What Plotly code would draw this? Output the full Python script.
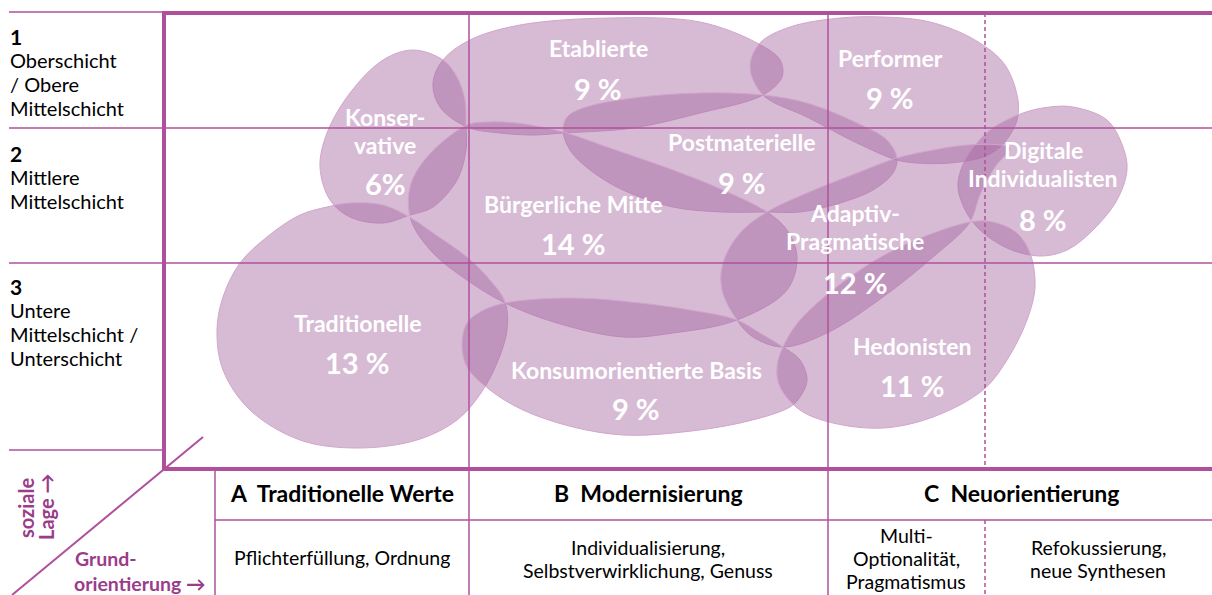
import plotly.graph_objects as go

# ---------------- data ----------------
milieus = ["Etablierte", "Performer", "Konservative", "Postmaterielle",
           "Digitale Individualisten", "Bürgerliche Mitte", "Adaptiv-Pragmatische",
           "Traditionelle", "Konsumorientierte Basis", "Hedonisten"]
name_lines = [["Etablierte"], ["Performer"], ["Konser-", "vative"], ["Postmaterielle"],
              ["Digitale", "Individualisten"], ["Bürgerliche Mitte"], ["Adaptiv-", "Pragmatische"],
              ["Traditionelle"], ["Konsumorientierte Basis"], ["Hedonisten"]]
shares = [9, 9, 6, 9, 8, 14, 12, 13, 9, 11]
share_text = ["9 %", "9 %", "6%", "9 %", "8 %", "14 %", "12 %", "13 %", "9 %", "11 %"]

# outlines of the milieu areas (x = Grundorientierung, y = soziale Lage, chart units)
outline_etablierte = [(443, 60), (470, 40), (520, 25), (610, 18), (700, 22), (757, 43), (780, 60), (782, 77),
                      (763, 95), (700, 113), (633, 128), (563, 133), (533, 135), (500, 133), (467, 127),
                      (440, 107), (433, 83)]
outline_performer = [(763, 95), (750, 67), (760, 43), (790, 27), (840, 18), (883, 17), (930, 22), (975, 40),
                     (1005, 65), (1018, 100), (1017, 120), (1010, 135), (1000, 147), (983, 157), (950, 163),
                     (917, 163), (897, 160), (857, 143), (807, 117)]
outline_konservative = [(413, 50), (443, 60), (457, 77), (465, 100), (466, 125), (466, 150), (457, 180),
                        (433, 207), (410, 215), (383, 223), (350, 217), (330, 200), (320, 167), (327, 133),
                        (350, 93), (383, 60)]
outline_postmaterielle = [(563, 130), (567, 117), (583, 108), (633, 98), (700, 93), (763, 95), (807, 103),
                          (857, 123), (887, 140), (897, 158), (893, 173), (873, 190), (840, 203), (800, 212),
                          (767, 212), (723, 212), (673, 207), (623, 190), (590, 170), (570, 150)]
outline_digitale = [(1073, 107), (1107, 120), (1123, 147), (1127, 170), (1117, 200), (1093, 230), (1067, 250),
                    (1040, 256), (1007, 248), (977, 227), (962, 203), (958, 183), (967, 157), (990, 130),
                    (1023, 113), (1050, 107)]
outline_buergerliche = [(467, 125), (487, 122), (517, 123), (563, 132), (607, 147), (673, 170), (723, 190),
                        (767, 212), (787, 230), (797, 257), (787, 290), (737, 320), (673, 333), (623, 337),
                        (557, 323), (505, 303), (467, 280), (433, 253), (411, 220), (410, 187), (427, 157)]
outline_adaptiv = [(767, 212), (807, 193), (857, 173), (897, 158), (933, 150), (967, 145), (1000, 145),
                   (1010, 148), (995, 167), (980, 195), (970, 222), (933, 257), (883, 297), (827, 333),
                   (783, 347), (753, 337), (737, 320), (722, 290), (723, 263), (740, 233)]
outline_traditionelle = [(267, 237), (300, 215), (327, 207), (350, 203), (383, 205), (411, 218), (433, 233),
                         (467, 257), (490, 280), (505, 302), (507, 330), (497, 363), (481, 393), (457, 420),
                         (417, 440), (357, 448), (300, 440), (250, 410), (223, 370), (217, 330), (223, 297),
                         (240, 263)]
outline_konsum = [(505, 303), (573, 298), (640, 303), (690, 310), (737, 320), (760, 333), (783, 347),
                  (800, 360), (807, 380), (800, 397), (790, 407), (740, 423), (673, 433), (623, 435),
                  (573, 427), (523, 410), (490, 390), (467, 367), (462, 343), (467, 323), (480, 312)]
outline_hedonisten = [(970, 222), (993, 222), (1017, 233), (1030, 253), (1035, 287), (1027, 320), (1007, 360),
                      (983, 390), (933, 417), (883, 428), (833, 423), (800, 410), (780, 387), (777, 367),
                      (783, 347), (800, 320), (850, 277), (900, 247)]
outlines = [outline_etablierte, outline_performer, outline_konservative, outline_postmaterielle,
            outline_digitale, outline_buergerliche, outline_adaptiv, outline_traditionelle,
            outline_konsum, outline_hedonisten]

# label anchor of each milieu (name centre x, name centre y, share centre y)
label_x = [598, 890, 385, 742, 1043, 573, 855, 357, 636, 912]
label_name_y = [48, 58, 117, 142, 150, 204, 213, 323, 370, 346]
label_share_y = [88, 97, 183, 182, 219, 243, 282, 362, 408, 385]

# social strata (rows) and basic orientation (columns)
strata_numbers = ["1", "2", "3"]
strata_lines = [["Oberschicht", "/ Obere", "Mittelschicht"],
                ["Mittlere", "Mittelschicht"],
                ["Untere", "Mittelschicht /", "Unterschicht"]]
orientation_heads = ["A  Traditionelle Werte", "B  Modernisierung", "C  Neuorientierung"]
orientation_texts = [["Pflichterfüllung, Ordnung"],
                     ["Individualisierung,", "Selbstverwirklichung, Genuss"],
                     ["Multi-", "Optionalität,", "Pragmatismus"],
                     ["Refokussierung,", "neue Synthesen"]]

# ---------------- styling ----------------
W, H = 1212, 595
GRID = "#B0509D"
PURPLE_TXT = "#9A3C8A"
FILL = "rgba(165,100,160,0.44)"
EDGE = "rgba(210,165,205,1)"
FONT = "Lato"

fig = go.Figure()

for name, pts in zip(milieus, outlines):
    xs = [p[0] for p in pts] + [pts[0][0]]
    ys = [p[1] for p in pts] + [pts[0][1]]
    fig.add_trace(go.Scatter(x=xs, y=ys, mode="lines", fill="toself", fillcolor=FILL,
                             line=dict(color=EDGE, width=1, shape="spline", smoothing=1.0),
                             name=name, hoverinfo="skip", showlegend=False))

shapes = []


def hline(y, x0, x1, w=1.5, dash=None):
    shapes.append(dict(type="line", xref="x", yref="y", x0=x0, x1=x1, y0=y, y1=y, layer="above",
                       line=dict(color=GRID, width=w, dash=dash)))


def vline(x, y0, y1, w=1.5, dash=None):
    shapes.append(dict(type="line", xref="x", yref="y", x0=x, x1=x, y0=y0, y1=y1, layer="above",
                       line=dict(color=GRID, width=w, dash=dash)))


# frame
hline(12, 9, 163)
hline(128, 9, W)
hline(263, 9, W)
hline(450, 9, 163)
vline(469, 13, H)
vline(828, 13, H)
vline(985, 13, 469, dash="4px,3px")
vline(985, 520, H, dash="4px,3px")
vline(215, 469, H)
hline(520, 215, W)
hline(13, 162, W, w=4)
hline(469, 162, W, w=4)
vline(164, 11, 471, w=4)
shapes.append(dict(type="line", xref="x", yref="y", x0=12, y0=595, x1=203, y1=437, layer="above",
                   line=dict(color=GRID, width=2)))

ann = []


def text(x, y, s, size, color="black", bold=False, xanchor="center", angle=0):
    ann.append(dict(x=x, y=y, xref="x", yref="y", text=s, showarrow=False, xanchor=xanchor,
                    yanchor="middle", textangle=angle,
                    font=dict(family=FONT, size=size, color=color, weight="bold" if bold else "normal")))


# milieu labels
for lines, sh, lx, ny, sy in zip(name_lines, share_text, label_x, label_name_y, label_share_y):
    for i, ln in enumerate(lines):
        text(lx, ny + i * 28, ln, 23, "white", True)
    text(lx, sy, sh, 29, "white", True)

# strata labels
strata_y = [36, 153, 286]
for num, lines, y0 in zip(strata_numbers, strata_lines, strata_y):
    text(8, y0, num, 21, "black", True, "left")
    for i, ln in enumerate(lines):
        text(8, y0 + 24 * (i + 1), ln, 20, "black", False, "left")

# axis captions
text(26, 508, "soziale", 20, PURPLE_TXT, True, "center", -90)
text(46, 507, "Lage →", 20, PURPLE_TXT, True, "center", -90)
text(73, 558, "Grund-", 19.5, PURPLE_TXT, True, "left")
text(72, 583, "orientierung →", 19.5, PURPLE_TXT, True, "left")

# table
head_x = [342, 648, 1022]
for hx, h in zip(head_x, orientation_heads):
    text(hx, 493, h, 23, "black", True)
body_x = [342, 648, 906, 1098]
body_y0 = [557, 547, 535, 547]
for bx, by, lines in zip(body_x, body_y0, orientation_texts):
    for i, ln in enumerate(lines):
        text(bx, by + 23 * i, ln, 19.5)

fig.update_layout(
    width=W, height=H, margin=dict(l=0, r=0, t=0, b=0),
    paper_bgcolor="white", plot_bgcolor="white",
    xaxis=dict(range=[0, W], visible=False, fixedrange=True),
    yaxis=dict(range=[H, 0], visible=False, fixedrange=True),
    shapes=shapes, annotations=ann, showlegend=False,
)

fig.write_html("out.html", config={"displayModeBar": False},
               post_script="document.body.style.margin='0';")
